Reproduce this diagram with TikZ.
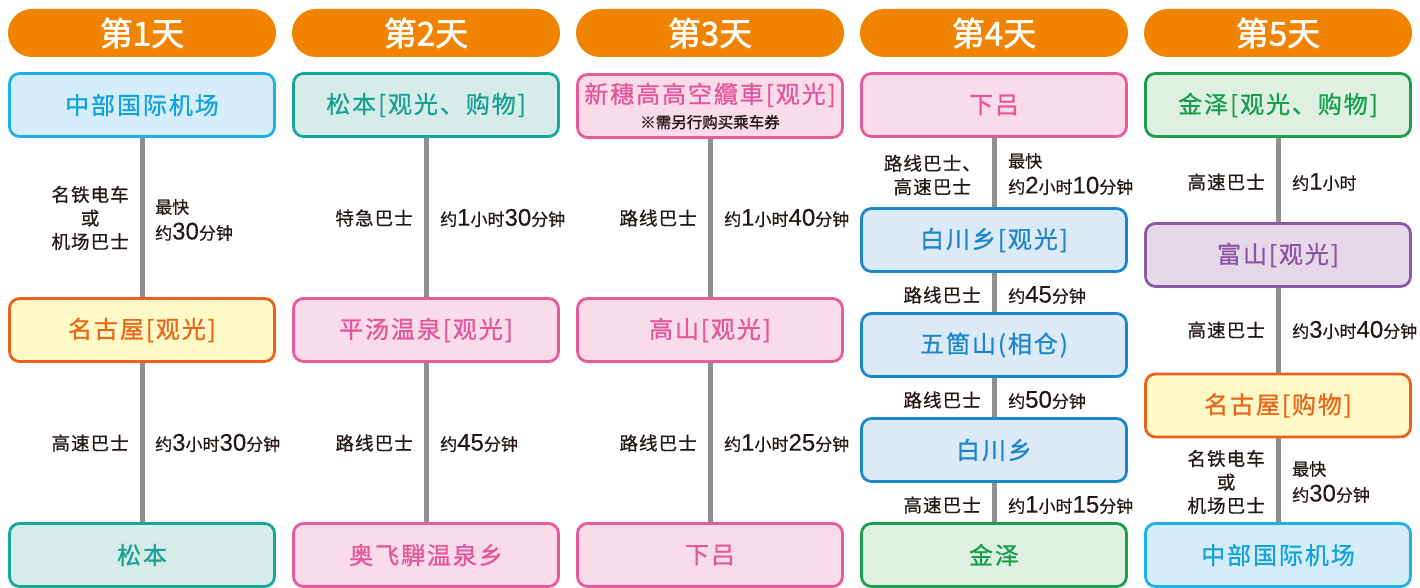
\documentclass[tikz,border=0pt]{standalone}
\usepackage{fontspec}
\setmainfont{Noto Sans CJK SC}
\newfontfamily\numfont{Liberation Sans}[FakeBold=0.3]
\newfontfamily\ttlfont{Noto Sans CJK SC}[LetterSpace=8,FakeBold=0.8]
\newfontfamily\lblfont{Noto Sans CJK SC}[LetterSpace=6,FakeBold=0.6]
\newfontfamily\rlfont{Noto Sans CJK SC}[FakeBold=0.6]
\newfontfamily\notefont{Noto Sans CJK SC}[FakeBold=1.2]
\newfontfamily\hdfont{Noto Sans CJK SC}[FakeBold=1.6]
\usetikzlibrary{backgrounds}
\definecolor{hdorange}{HTML}{F08400}
\definecolor{cyanB}{HTML}{1FB0E6}\definecolor{cyanF}{HTML}{D4EDF9}\definecolor{cyanT}{HTML}{12A2DE}
\definecolor{orgB}{HTML}{E9611A}\definecolor{orgF}{HTML}{FFF9C8}\definecolor{orgT}{HTML}{EA6516}
\definecolor{tealB}{HTML}{16A99B}\definecolor{tealF}{HTML}{D5ECE9}\definecolor{tealT}{HTML}{18A194}
\definecolor{pinkB}{HTML}{E85A9B}\definecolor{pinkF}{HTML}{FADBEA}\definecolor{pinkT}{HTML}{E55599}
\definecolor{blueB}{HTML}{1A88CB}\definecolor{blueF}{HTML}{DCE9F7}\definecolor{blueT}{HTML}{1C86CA}
\definecolor{grnB}{HTML}{1A9F4A}\definecolor{grnF}{HTML}{DFF0E2}\definecolor{grnT}{HTML}{14A04A}
\definecolor{purB}{HTML}{8B5AA5}\definecolor{purF}{HTML}{E6D7E9}\definecolor{purT}{HTML}{8A55A0}
\definecolor{lineG}{HTML}{8F8F8F}
\definecolor{txt}{HTML}{231815}
\newcommand\nm[1]{{\numfont\fontsize{24}{24}\selectfont #1}}
\tikzset{
 hdr/.style={fill=hdorange, rounded corners=24pt, minimum width=268pt, minimum height=48pt,
   text=white, inner sep=0pt, font=\hdfont\fontsize{33}{36}\selectfont},
 box/.style={rounded corners=10pt, line width=2.8pt, minimum width=265pt, minimum height=63pt,
   inner sep=0pt, font=\ttlfont\fontsize{24}{28}\selectfont},
 cyanbox/.style={box, draw=cyanB, fill=cyanF, text=cyanT},
 orgbox/.style={box, draw=orgB, fill=orgF, text=orgT},
 tealbox/.style={box, draw=tealB, fill=tealF, text=tealT},
 pinkbox/.style={box, draw=pinkB, fill=pinkF, text=pinkT},
 bluebox/.style={box, draw=blueB, fill=blueF, text=blueT},
 grnbox/.style={box, draw=grnB, fill=grnF, text=grnT},
 purbox/.style={box, draw=purB, fill=purF, text=purT},
 conn/.style={draw=lineG, line width=5pt},
 ll/.style={anchor=east, inner sep=0pt, text=txt, align=center, font=\lblfont\fontsize{18.5}{23.5}\selectfont},
 rl/.style={anchor=west, inner sep=0pt, text=txt, align=left, font=\rlfont\fontsize{17}{26}\selectfont},
}
\begin{document}
\begin{tikzpicture}[x=1pt,y=-1pt]
\useasboundingbox (0,0) rectangle (1420,588);
% headers
\node[hdr] (h1) at (142,33) {第1天};
\node[hdr] (h2) at (426,33) {第2天};
\node[hdr] (h3) at (710,33) {第3天};
\node[hdr] (h4) at (994,33) {第4天};
\node[hdr] (h5) at (1278,33) {第5天};
% day 1
\node[cyanbox] (a1) at (142,105) {中部国际机场};
\node[orgbox] (a2) at (142,330) {名古屋[观光]};
\node[tealbox] (a3) at (142,555) {松本};
% day 2
\node[tealbox] (b1) at (426,105) {松本[观光、购物]};
\node[pinkbox] (b2) at (426,330) {平汤温泉[观光]};
\node[pinkbox] (b3) at (426,555) {奥飞騨温泉乡};
% day 3
\node[pinkbox, align=center] (c1) at (710,106) {新穗高高空纜車[观光]\\[-3pt]{\notefont\fontsize{15.5}{16}\selectfont\color{txt}※需另行购买乘车券}};
\node[pinkbox] (c2) at (710,330) {高山[观光]};
\node[pinkbox] (c3) at (710,555) {下吕};
% day 4
\node[pinkbox] (d1) at (994,105) {下吕};
\node[bluebox] (d2) at (994,240) {白川乡[观光]};
\node[bluebox] (d3) at (994,345) {五箇山(相仓)};
\node[bluebox] (d4) at (994,450) {白川乡};
\node[grnbox] (d5) at (994,555) {金泽};
% day 5
\node[grnbox] (e1) at (1278,105) {金泽[观光、购物]};
\node[purbox] (e2) at (1278,255) {富山[观光]};
\node[orgbox] (e3) at (1278,405.5) {名古屋[购物]};
\node[cyanbox] (e4) at (1278,555) {中部国际机场};
% connectors
\begin{scope}[on background layer]
\draw[conn] (a1) -- (a2); \draw[conn] (a2) -- (a3);
\draw[conn] (b1) -- (b2); \draw[conn] (b2) -- (b3);
\draw[conn] (c1) -- (c2); \draw[conn] (c2) -- (c3);
\draw[conn] (d1) -- (d2); \draw[conn] (d2) -- (d3); \draw[conn] (d3) -- (d4); \draw[conn] (d4) -- (d5);
\draw[conn] (e1) -- (e2); \draw[conn] (e2) -- (e3); \draw[conn] (e3) -- (e4);
\end{scope}
% labels day 1
\node[ll] (l11) at (129,218) {名铁电车\\或\\机场巴士};
\node[rl] (r11) at (155,220) {最快\\约\nm{30}分钟};
\node[ll] (l12) at (129,443) {高速巴士};
\node[rl] (r12) at (155,443) {约\nm{3}小时\nm{30}分钟};
% day 2
\node[ll] (l21) at (413,218) {特急巴士};
\node[rl] (r21) at (440,218) {约\nm{1}小时\nm{30}分钟};
\node[ll] (l22) at (413,443) {路线巴士};
\node[rl] (r22) at (440,443) {约\nm{45}分钟};
% day 3
\node[ll] (l31) at (697,218) {路线巴士};
\node[rl] (r31) at (724,218) {约\nm{1}小时\nm{40}分钟};
\node[ll] (l32) at (697,443) {路线巴士};
\node[rl] (r32) at (724,443) {约\nm{1}小时\nm{25}分钟};
% day 4
\node[ll] (l41) at (981,175) {路线巴士、\\高速巴士};
\node[rl] (r41) at (1008,174) {最快\\约\nm{2}小时\nm{10}分钟};
\node[ll] (l42) at (981,295) {路线巴士};
\node[rl] (r42) at (1008,295) {约\nm{45}分钟};
\node[ll] (l43) at (981,400) {路线巴士};
\node[rl] (r43) at (1008,400) {约\nm{50}分钟};
\node[ll] (l44) at (981,505) {高速巴士};
\node[rl] (r44) at (1008,505) {约\nm{1}小时\nm{15}分钟};
% day 5
\node[ll] (l51) at (1265,182) {高速巴士};
\node[rl] (r51) at (1292,182) {约\nm{1}小时};
\node[ll] (l52) at (1265,330) {高速巴士};
\node[rl] (r52) at (1292,330) {约\nm{3}小时\nm{40}分钟};
\node[ll] (l53) at (1265,482) {名铁电车\\或\\机场巴士};
\node[rl] (r53) at (1292,482) {最快\\约\nm{30}分钟};
\end{tikzpicture}
\end{document}
